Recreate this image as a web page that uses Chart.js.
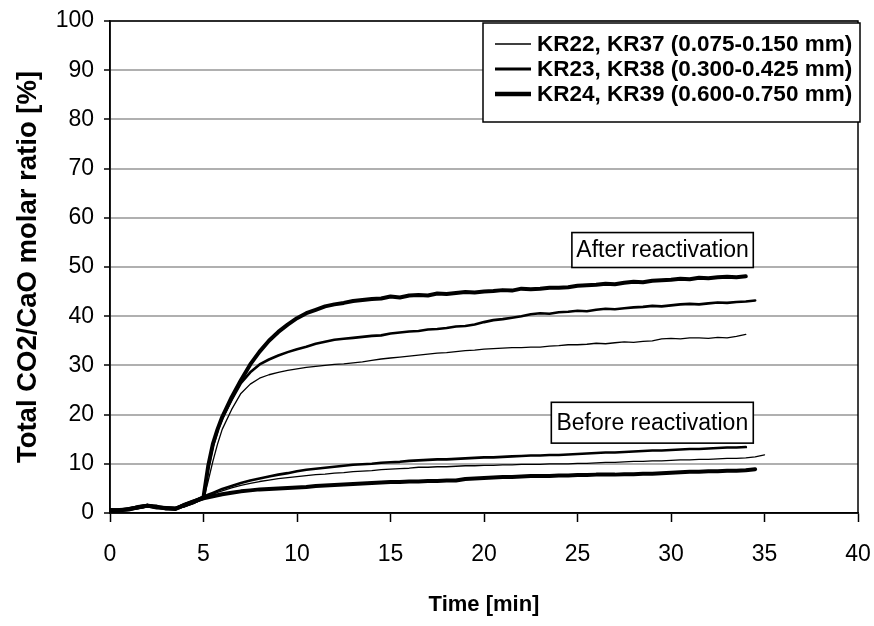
<!DOCTYPE html>
<html><head><meta charset="utf-8">
<script src="https://cdn.jsdelivr.net/npm/chart.js@4/dist/chart.umd.min.js"></script>
<style>html,body{margin:0;padding:0;background:#fff}#wrap{width:874px;height:626px;position:relative}</style>
</head><body><div id="wrap"><canvas id="c" width="874" height="626"></canvas></div>
<script>
// ---- data ----
const timeMin = [0,0.5,1,1.5,2,2.5,3,3.5,4,4.5,
  5,5.25,5.5,5.75,
  6,6.5,7,7.5,8,8.5,9,9.5,10,10.5,11,11.5,12,12.5,13,13.5,14,14.5,15,15.5,16,16.5,17,17.5,18,18.5,19,19.5,20,20.5,
  21,21.5,22,22.5,23,23.5,24,24.5,25,25.5,26,26.5,27,27.5,28,28.5,29,29.5,30,30.5,31,31.5,32,32.5,33,33.5,34,34.5,35];

// After reactivation
const afterFine = [0.4,0.5,0.6,0.9,1.2,1.0,0.9,0.8,1.3,2.0,
  2.8,6.5,10.5,14.0,
  17.0,21.0,24.3,26.2,27.4,28.1,28.6,29.0,29.3,29.6,29.8,30.0,30.2,30.3,30.5,30.7,31.0,31.3,31.5,31.7,31.9,32.1,32.3,32.5,32.6,32.8,33.0,33.1,33.3,33.4,
  33.5,33.6,33.6,33.7,33.7,33.9,34.0,34.2,34.2,34.3,34.5,34.4,34.6,34.8,34.7,34.9,35.0,35.4,35.5,35.4,35.6,35.6,35.5,35.7,35.6,35.9,36.3,null,null];
const afterMedium = [0.6,0.5,0.8,1.0,1.4,1.2,0.8,1.0,1.4,2.1,
  3.0,9.2,13.6,16.8,
  19.2,23.0,26.4,28.6,30.2,31.2,32.0,32.7,33.3,33.8,34.4,34.8,35.2,35.4,35.6,35.8,36.0,36.1,36.5,36.7,36.9,37.0,37.3,37.4,37.6,37.9,38.0,38.3,38.8,39.2,
  39.4,39.7,40.0,40.4,40.6,40.5,40.8,40.9,41.1,41.0,41.3,41.5,41.4,41.6,41.8,41.9,42.1,42.0,42.2,42.4,42.5,42.4,42.6,42.8,42.7,42.9,43.0,43.2,null];
const afterCoarse = [0.5,0.6,0.7,1.2,1.5,1.1,1.0,0.9,1.6,2.3,
  3.2,9.5,14.0,17.0,
  19.5,23.5,27.0,30.2,32.8,35.0,36.8,38.3,39.6,40.6,41.3,42.0,42.4,42.7,43.1,43.3,43.5,43.6,44.0,43.8,44.2,44.3,44.2,44.6,44.5,44.7,44.9,44.8,45.0,45.1,
  45.3,45.2,45.6,45.5,45.6,45.8,45.8,45.9,46.2,46.3,46.4,46.6,46.5,46.8,47.0,46.9,47.2,47.3,47.4,47.6,47.5,47.8,47.7,47.9,48.0,47.9,48.1,null,null];

// Before reactivation
const beforeFine = [0.5,0.6,0.7,1.1,1.3,1.0,0.9,1.0,1.5,2.2,
  3.0,3.4,3.8,4.2,
  4.5,5.1,5.6,6.0,6.4,6.7,7.0,7.2,7.4,7.6,7.8,7.9,8.1,8.2,8.4,8.5,8.6,8.8,8.9,9.0,9.1,9.3,9.3,9.4,9.4,9.5,9.6,9.6,9.7,9.7,
  9.8,9.8,9.9,9.9,9.9,10.0,10.0,10.0,10.1,10.1,10.2,10.3,10.3,10.4,10.5,10.5,10.6,10.6,10.7,10.8,10.8,10.9,10.9,11.0,11.1,11.1,11.2,11.4,11.8];
const beforeMedium = [0.7,0.6,0.9,1.3,1.6,1.2,1.1,1.0,1.8,2.5,
  3.3,3.7,4.1,4.5,
  4.9,5.5,6.1,6.6,7.0,7.4,7.8,8.1,8.5,8.8,9.0,9.2,9.4,9.6,9.8,9.9,10.0,10.2,10.3,10.4,10.6,10.7,10.8,10.9,10.9,11.0,11.1,11.2,11.3,11.3,
  11.4,11.5,11.6,11.7,11.7,11.8,11.8,11.9,12.0,12.1,12.2,12.3,12.3,12.4,12.5,12.6,12.7,12.7,12.8,12.9,13.0,13.0,13.1,13.2,13.3,13.3,13.4,null,null];
const beforeCoarse = [0.6,0.5,0.8,1.1,1.5,1.3,0.9,0.8,1.7,2.4,
  3.0,3.2,3.4,3.6,
  3.8,4.1,4.4,4.6,4.8,4.9,5.0,5.1,5.2,5.3,5.5,5.6,5.7,5.8,5.9,6.0,6.1,6.2,6.3,6.3,6.4,6.4,6.5,6.5,6.6,6.6,6.9,7.0,7.1,7.2,
  7.3,7.3,7.4,7.5,7.5,7.5,7.6,7.6,7.7,7.7,7.8,7.8,7.8,7.9,7.9,8.0,8.0,8.1,8.2,8.3,8.4,8.4,8.5,8.5,8.6,8.6,8.7,8.9,null];

const xTickValues = [0,5,10,15,20,25,30,35,40];
const yTickValues = [0,10,20,30,40,50,60,70,80,90,100];
const legendLabels = ['KR22, KR37 (0.075-0.150 mm)','KR23, KR38 (0.300-0.425 mm)','KR24, KR39 (0.600-0.750 mm)'];
const xTitle = 'Time [min]';
const yTitle = 'Total CO2/CaO molar ratio [%]';
const afterLabel = 'After reactivation';
const beforeLabel = 'Before reactivation';

// ---- styling ----
const FONT = '"Liberation Sans", Arial, Helvetica, sans-serif';
const GRID = '#b0b0b0';
const WIDTHS = [1.3, 2.6, 4.0];

function pts(vals){
  const out = [];
  for (let i = 0; i < timeMin.length; i++) if (vals[i] !== null) out.push({x: timeMin[i], y: vals[i]});
  return out;
}
function ds(label, vals, w){
  return {label, data: pts(vals), borderColor:'#000', backgroundColor:'#000', borderWidth:w,
    pointRadius:0, tension:0, fill:false, borderJoinStyle:'round', borderCapStyle:'round'};
}

const overlay = {
  id:'overlay',
  afterDatasetsDraw(chart){
    const {ctx, chartArea:a} = chart;
    ctx.save();
    ctx.strokeStyle = '#000'; ctx.lineWidth = 1.5;
    ctx.strokeRect(a.left, a.top, a.right - a.left, a.bottom - a.top);
    ctx.restore();
  },
  afterDraw(chart){
    const {ctx, chartArea:a, scales} = chart;
    const xs = scales.x, ys = scales.y;
    ctx.save();
    // annotation boxes
    function box(text, t0, t1, v0, v1){
      const x0 = xs.getPixelForValue(t0), x1 = xs.getPixelForValue(t1);
      const y0 = ys.getPixelForValue(v0), y1 = ys.getPixelForValue(v1);
      ctx.fillStyle = '#fff';
      ctx.fillRect(x0, y0, x1 - x0, y1 - y0);
      ctx.strokeStyle = '#000'; ctx.lineWidth = 1.6;
      ctx.strokeRect(x0, y0, x1 - x0, y1 - y0);
      ctx.fillStyle = '#000';
      ctx.font = '23px ' + FONT;
      ctx.textAlign = 'center'; ctx.textBaseline = 'middle';
      ctx.fillText(text, (x0 + x1) / 2, (y0 + y1) / 2 + 1);
    }
    box(afterLabel, 24.7, 34.4, 57.0, 49.9);
    box(beforeLabel, 23.6, 34.4, 22.5, 14.2);

    // legend
    const lx0 = 483, lx1 = a.right + 2, ly0 = a.top + 2, ly1 = a.top + 101;
    ctx.fillStyle = '#fff';
    ctx.fillRect(lx0, ly0, lx1 - lx0, ly1 - ly0);
    ctx.strokeStyle = '#000'; ctx.lineWidth = 1.5;
    ctx.strokeRect(lx0, ly0, lx1 - lx0, ly1 - ly0);
    ctx.font = 'bold 22.5px ' + FONT;
    ctx.textAlign = 'left'; ctx.textBaseline = 'middle';
    for (let i = 0; i < legendLabels.length; i++){
      const y = ly0 + 21 + i * 25;
      ctx.strokeStyle = '#000'; ctx.lineWidth = WIDTHS[i] + 0.3;
      ctx.beginPath(); ctx.moveTo(495, y); ctx.lineTo(531, y); ctx.stroke();
      ctx.fillStyle = '#000';
      ctx.fillText(legendLabels[i], 537, y + 1);
    }
    ctx.restore();
  }
};

new Chart(document.getElementById('c'), {
  type:'line',
  data:{ datasets:[
    ds(legendLabels[0] + ' after', afterFine, WIDTHS[0]),
    ds(legendLabels[1] + ' after', afterMedium, WIDTHS[1]),
    ds(legendLabels[2] + ' after', afterCoarse, WIDTHS[2]),
    ds(legendLabels[0] + ' before', beforeFine, WIDTHS[0]),
    ds(legendLabels[1] + ' before', beforeMedium, WIDTHS[1]),
    ds(legendLabels[2] + ' before', beforeCoarse, WIDTHS[2])
  ]},
  options:{
    responsive:false, animation:false, devicePixelRatio:1,
    layout:{padding:{left:0, right:16, top:21, bottom:0}},
    plugins:{legend:{display:false}, tooltip:{enabled:false}},
    scales:{
      x:{type:'linear', min:0, max:40,
        afterBuildTicks(s){ s.ticks = xTickValues.map(v => ({value:v})); },
        afterFit(s){ s.height = 113; s.paddingLeft = 0; s.paddingRight = 0; },
        ticks:{color:'#000', font:{family:FONT, size:23}, padding:19, maxRotation:0, autoSkip:false},
        grid:{drawOnChartArea:false, drawTicks:true, tickLength:9, tickColor:'#000', tickWidth:1.5},
        border:{display:true, color:'#000', width:1.5},
        title:{display:true, text:xTitle, color:'#000', font:{family:FONT, size:22, weight:'bold'}, padding:{top:0, bottom:8}}
      },
      y:{type:'linear', min:0, max:100,
        afterBuildTicks(s){ s.ticks = yTickValues.map(v => ({value:v})); },
        afterFit(s){ s.width = 110; s.paddingTop = 0; s.paddingBottom = 0; },
        ticks:{color:'#000', font:{family:FONT, size:23}, padding:10},
        grid:{color:GRID, lineWidth:2, drawTicks:true, tickLength:6, tickColor:'#000', tickWidth:1.5},
        border:{display:true, color:'#000', width:1.5},
        title:{display:true, text:yTitle, color:'#000', font:{family:FONT, size:27.5, weight:'bold'}, padding:{top:12, bottom:0}}
      }
    }
  },
  plugins:[overlay]
});
</script>
</body></html>
